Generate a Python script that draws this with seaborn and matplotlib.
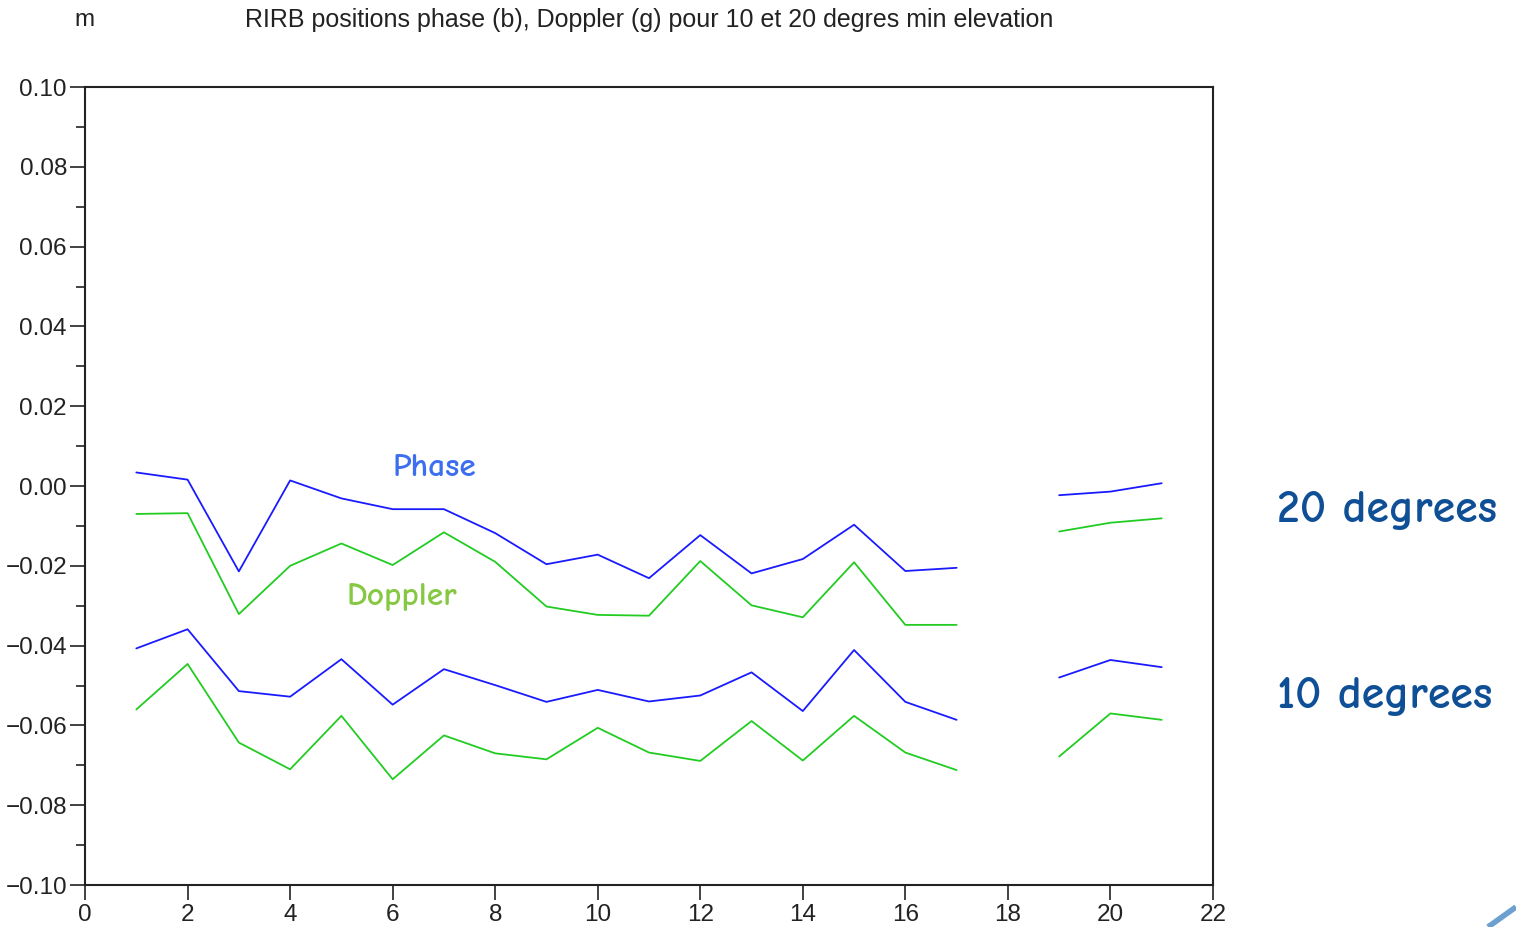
import numpy as np
import pandas as pd
import matplotlib
matplotlib.use("Agg")
import matplotlib.pyplot as plt
from matplotlib.lines import Line2D
import seaborn as sns

# Station index along the baseline (no solution at 18)
stations = list(range(1, 22))

# Position offsets in metres, NaN where no solution exists
phase_20 = [0.0034, 0.0016, -0.0214, 0.0014, -0.0031, -0.0058, -0.0058, -0.0118, -0.0196, -0.0172,
            -0.0231, -0.0123, -0.0219, -0.0183, -0.0097, -0.0213, -0.0205, np.nan, -0.0023, -0.0014, 0.0007]
doppler_20 = [-0.0070, -0.0068, -0.0321, -0.0200, -0.0144, -0.0198, -0.0116, -0.0190, -0.0302, -0.0323,
              -0.0325, -0.0188, -0.0299, -0.0329, -0.0191, -0.0348, -0.0348, np.nan, -0.0114, -0.0092, -0.0081]
phase_10 = [-0.0407, -0.0359, -0.0514, -0.0528, -0.0434, -0.0548, -0.0459, -0.0499, -0.0541, -0.0511,
            -0.0540, -0.0525, -0.0467, -0.0564, -0.0411, -0.0541, -0.0586, np.nan, -0.0480, -0.0436, -0.0454]
doppler_10 = [-0.0560, -0.0446, -0.0643, -0.0710, -0.0576, -0.0735, -0.0625, -0.0670, -0.0685, -0.0606,
              -0.0668, -0.0689, -0.0589, -0.0688, -0.0576, -0.0668, -0.0712, np.nan, -0.0678, -0.0570, -0.0586]

x_ticks = list(range(0, 23, 2))
y_ticks = [-0.10, -0.08, -0.06, -0.04, -0.02, 0.00, 0.02, 0.04, 0.06, 0.08, 0.10]

series = {
    ("Phase", "20"): phase_20,
    ("Doppler", "20"): doppler_20,
    ("Phase", "10"): phase_10,
    ("Doppler", "10"): doppler_10,
}

# Long table; each unbroken run of values becomes its own trace
rows = []
for (method, elev), values in series.items():
    seg = 0
    for x, v in zip(stations, values):
        if np.isnan(v):
            seg += 1
            continue
        rows.append({"station": x, "offset": v, "method": method,
                     "trace": f"{method}-{elev}-{seg}"})
df = pd.DataFrame(rows)

sns.set_theme(style="white")
plt.rcParams["font.family"] = ["Liberation Sans", "DejaVu Sans"]

fig = plt.figure(figsize=(15.16, 9.27), dpi=100)
ax = fig.add_axes([0.0561, 0.0453, 0.7440, 0.8608])

sns.lineplot(data=df, x="station", y="offset", hue="method", units="trace",
             estimator=None, palette={"Phase": "#1a1aff", "Doppler": "#22cc22"},
             linewidth=1.3, legend=False, sort=True, ax=ax)

ax.set_xlim(0, 22)
ax.set_ylim(-0.10, 0.10)
ax.set_xticks(x_ticks)
ax.set_xticklabels([str(t) for t in x_ticks])
ax.set_yticks(y_ticks)
ax.set_yticklabels([f"{t:.2f}".replace("-", "\u2212") for t in y_ticks])
ax.set_yticks(np.arange(-0.10, 0.1001, 0.01), minor=True)
ax.set_xlabel("")
ax.set_ylabel("")

ax.tick_params(axis="both", which="major", direction="out", length=11, width=1.2,
               color="#222222", labelsize=17.5, labelcolor="#222222", pad=2,
               bottom=True, left=True, top=False, right=False)
ax.tick_params(axis="x", which="major", pad=3)
ax.tick_params(axis="y", which="minor", direction="out", length=6.5, width=1.2,
               color="#222222", left=True, right=False)
for spine in ax.spines.values():
    spine.set_color("#222222")
    spine.set_linewidth(1.5)
    spine.set_visible(True)

# Header
fig.text(85 / 1516, 1 - 20 / 927, "m", ha="center", va="center", fontsize=17.5, color="#222222")
fig.text(649 / 1516, 1 - 20 / 927,
         "RIRB positions phase (b), Doppler (g) pour 10 et 20 degres min elevation",
         ha="center", va="center", fontsize=18, color="#222222")

# Curve annotations
hand = ["Comic Neue", "DejaVu Sans"]
ax.text(6.0, 0.0045, "Phase", color="#3d6ef0", fontsize=24, family=hand,
        fontweight="bold", ha="left", va="center")
ax.text(5.1, -0.0278, "Doppler", color="#86c841", fontsize=24, family=hand,
        fontweight="bold", ha="left", va="center")
fig.text(1277 / 1516, 1 - 510 / 927, "20 degrees", color="#0f4f96", fontsize=33,
         family=hand, fontweight="bold", ha="left", va="center")
fig.text(1277 / 1516, 1 - 696 / 927, "10 degrees", color="#0f4f96", fontsize=33,
         family=hand, fontweight="bold", ha="left", va="center")

# Corner ribbon
fig.add_artist(Line2D([1488 / 1516, 1.0], [0.0, 20 / 927], transform=fig.transFigure,
                      color="#6d9fd0", linewidth=4, solid_capstyle="butt"))

fig.savefig("out.png", dpi=100, facecolor="white")
